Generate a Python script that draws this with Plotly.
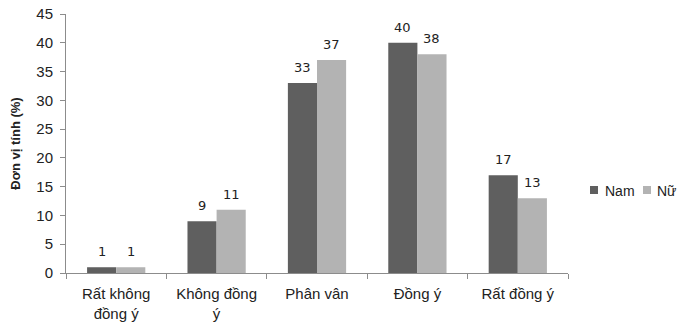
import plotly.graph_objects as go

categories = ["Rất không<br>đồng ý", "Không đồng<br>ý", "Phân vân", "Đồng ý", "Rất đồng ý"]
series_names = ["Nam", "Nữ"]
nam = [1, 9, 33, 40, 17]
nu = [1, 11, 37, 38, 13]
colors = ["#5f5f5f", "#b3b3b3"]
y_ticks = [0, 5, 10, 15, 20, 25, 30, 35, 40, 45]

W, H = 678, 322
L, R, T, B = 66, 110, 14, 49
PW, PH = W - L - R, H - T - B

def px(x):
    return (x - L) / PW

def py(y):
    return (H - B - y) / PH

fig = go.Figure()
for name, vals, col in zip(series_names, (nam, nu), colors):
    fig.add_trace(go.Bar(name=name, x=categories, y=vals, marker_color=col,
                         marker_line_width=0))

for vals, shift in ((nam, -14.5), (nu, 14.5)):
    for c, v in zip(categories, vals):
        fig.add_annotation(x=c, y=v, text=str(v), showarrow=False, xshift=shift,
                           yanchor="bottom", yshift=6,
                           font=dict(family="DejaVu Sans", size=13, color="#222"))

# legend (drawn manually to fit the narrow right margin)
legend_items = [(series_names[0], colors[0], 590, 603), (series_names[1], colors[1], 643, 655)]
for name, col, sx, tx in legend_items:
    fig.add_shape(type="rect", xref="paper", yref="paper",
                  x0=px(sx), x1=px(sx + 8), y0=py(194), y1=py(186),
                  fillcolor=col, line_width=0)
    fig.add_annotation(xref="paper", yref="paper", x=px(tx), y=py(190.5),
                       xanchor="left", yanchor="middle", text=name, showarrow=False,
                       font=dict(size=14, color="#222"))

fig.update_layout(
    width=W, height=H,
    margin=dict(l=L, r=R, t=T, b=B, autoexpand=False),
    paper_bgcolor="white", plot_bgcolor="white",
    barmode="group", bargap=0.42, bargroupgap=0,
    font=dict(family="Liberation Sans, Arial", size=15, color="#222"),
    showlegend=False,
    yaxis=dict(range=[0, 45], tickvals=y_ticks, showgrid=False, showline=True,
               linecolor="#8c8c8c", ticks="outside", ticklen=5, tickcolor="#8c8c8c",
               title=dict(text="<b>Đơn vị tính (%)</b>", font=dict(size=13), standoff=12),
               zeroline=False, ticklabelstandoff=4),
    xaxis=dict(showline=True, linecolor="#8c8c8c", ticks="outside", ticklen=5,
               tickcolor="#8c8c8c", tickson="boundaries", showgrid=False,
               ticklabelstandoff=7),
)
fig.write_html("out.html")
